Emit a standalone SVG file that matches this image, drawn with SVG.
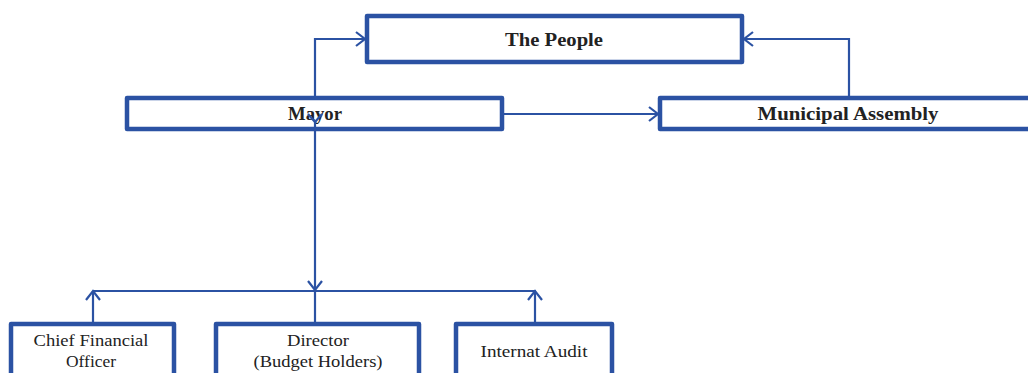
<svg xmlns="http://www.w3.org/2000/svg" width="1028" height="373" viewBox="0 0 1028 373">
<style>
.box{fill:#fff;stroke:#2b52a3;stroke-width:4.5;stroke-linejoin:round}
.ln{fill:none;stroke:#2b52a3;stroke-width:2.2}
.t{font-family:"Liberation Serif",serif;fill:#222;text-anchor:middle}
.b{font-weight:bold;font-size:18px}
.r{font-size:16px}
</style>
<defs>
<marker id="ah" markerUnits="userSpaceOnUse" markerWidth="20" markerHeight="20" refX="10" refY="10" orient="auto">
<path d="M1,3 L10,10 L1,17" fill="none" stroke="#2b52a3" stroke-width="2.2"/>
</marker>
</defs>
<g id="people">
<rect class="box" x="367" y="16" width="375" height="46"/>
<text class="t b" x="554" y="46" textLength="98" lengthAdjust="spacingAndGlyphs">The People</text>
</g>
<g id="mayor">
<rect class="box" x="127" y="98" width="375" height="31"/>
<text class="t b" x="315" y="120" textLength="54" lengthAdjust="spacingAndGlyphs">Mayor</text>
</g>
<g id="assembly">
<rect class="box" x="660" y="98" width="380" height="31"/>
<text class="t b" x="848" y="120" textLength="181" lengthAdjust="spacingAndGlyphs">Municipal Assembly</text>
</g>
<g id="cfo">
<rect class="box" x="11" y="324" width="163" height="60"/>
<text class="t r" x="91" y="346" textLength="115" lengthAdjust="spacingAndGlyphs">Chief Financial</text>
<text class="t r" x="91" y="367" textLength="50" lengthAdjust="spacingAndGlyphs">Officer</text>
</g>
<g id="director">
<rect class="box" x="216" y="324" width="203" height="60"/>
<text class="t r" x="318" y="346" textLength="62" lengthAdjust="spacingAndGlyphs">Director</text>
<text class="t r" x="318" y="367" textLength="129" lengthAdjust="spacingAndGlyphs">(Budget Holders)</text>
</g>
<g id="audit">
<rect class="box" x="456" y="324" width="156" height="60"/>
<text class="t r" x="534" y="357" textLength="107" lengthAdjust="spacingAndGlyphs">Internat Audit</text>
</g>
<g id="connectors">
<path class="ln" d="M315,96 V39 H365" marker-end="url(#ah)"/>
<path class="ln" d="M849,96 V39 H744" marker-end="url(#ah)"/>
<path class="ln" d="M504,114 H658" marker-end="url(#ah)"/>
<path class="ln" d="M308,114 L315,122 L322,114"/>
<path class="ln" d="M315,122 V290" marker-end="url(#ah)"/>
<path class="ln" d="M93,291 H536"/>
<path class="ln" d="M315,291 V322"/>
<path class="ln" d="M93,322 V291" marker-end="url(#ah)"/>
<path class="ln" d="M535,322 V291" marker-end="url(#ah)"/>
</g>
</svg>
